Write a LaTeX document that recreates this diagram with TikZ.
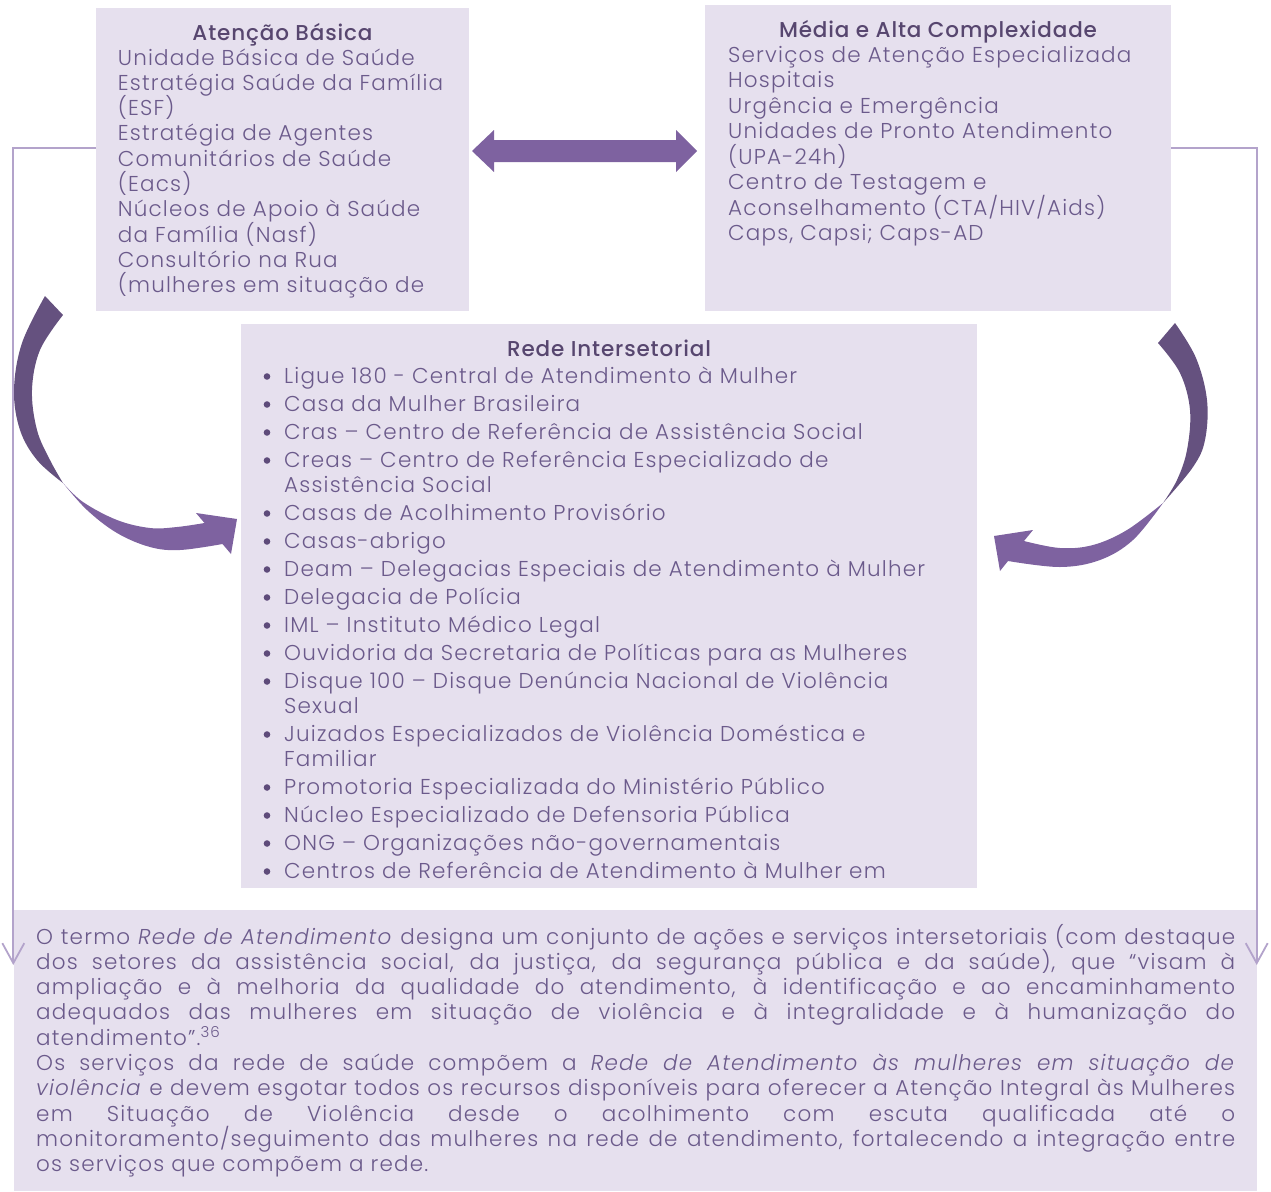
\documentclass[tikz,border=0pt]{standalone}
\usepackage{fontspec}
\usetikzlibrary{arrows.meta}
\IfFontExistsTF{Poppins Light}{%
  \IfFontExistsTF{Poppins Light Italic}{%
    \setmainfont{Poppins Light}[LetterSpace=5.5, ItalicFont={Poppins Light Italic}]}{%
    \setmainfont{Poppins Light}[LetterSpace=5.5]}%
}{\setmainfont{Poppins}[LetterSpace=5.5]}
\IfFontExistsTF{Poppins Medium}{\newfontfamily\ttlfam{Poppins Medium}[LetterSpace=4]}{\newfontfamily\ttlfam{Poppins}[LetterSpace=4]}
\newcommand\myfont{\fontsize{21.5}{25}\selectfont}
\newcommand\myttl{\ttlfam\fontsize{21.5}{25}\selectfont}
\definecolor{boxfill}{HTML}{E6E0EE}
\definecolor{txtc}{HTML}{6B5A8B}
\definecolor{ttlc}{HTML}{57466F}
\definecolor{lineclr}{HTML}{B3A3CB}
\definecolor{arrowclr}{HTML}{7E62A0}
\definecolor{arrowdark}{HTML}{65517F}
\definecolor{bulletclr}{HTML}{5E4B7A}
\begin{document}
\begin{tikzpicture}[x=1pt,y=-1pt,
  box/.style={fill=boxfill, draw=none, inner sep=0pt, outer sep=0pt, anchor=north west},
  ln/.style={anchor=base west, inner sep=0pt, text=txtc, font=\myfont},
  ttlnode/.style={anchor=base, inner sep=0pt, text=ttlc, font=\myttl},
  bul/.style={circle, fill=bulletclr, minimum size=6.6pt, inner sep=0pt},
  side/.style={draw=lineclr, line width=1.8pt, -{Straight Barb[length=20pt,width=22pt]}}]
\useasboundingbox (0,0) rectangle (1271,1191);
% boxes
\node[box, minimum width=373pt, minimum height=303pt] (ab) at (96,8) {};
\node[box, minimum width=466pt, minimum height=306pt] (mc) at (705,5) {};
\node[box, minimum width=736pt, minimum height=564pt] (ri) at (241,324) {};
\node[box, minimum width=1243pt, minimum height=281pt] (bt) at (14,910) {};
% side connectors
\coordinate (lstart) at (96,148);
\coordinate (lend) at (13.3,965);
\coordinate (rstart) at (1171,148);
\coordinate (rend) at (1256.7,965);
\draw[side] (lstart) -| (lend);
\draw[side] (rstart) -| (rend);
% double arrow
\fill[arrowclr] (472,151) -- (494,130) -- (494,140) -- (676,140) -- (676,130) -- (697,151)
  -- (676,172) -- (676,162) -- (494,162) -- (494,172) -- cycle;
% left curved arrow
\fill[arrowdark] plot[smooth, tension=0.6] coordinates {(45,296) (22,343) (14,390) (20,430) (37,460) (63,483)}
  -- plot[smooth, tension=0.6] coordinates {(63,483) (50,460) (37,430) (32,390) (40,350) (63,315)} -- cycle;
\fill[arrowclr] plot[smooth, tension=0.6] coordinates {(63,483) (83,502) (117,520) (150,528) (177,527) (204.5,523)}
  -- (196,513) -- (237,519) -- (231,554) -- (222.5,544)
  -- plot[smooth, tension=0.6] coordinates {(222.5,544) (180,550) (150,547) (117,533) (87,510) (63,483)} -- cycle;
% right curved arrow
\fill[arrowdark] plot[smooth, tension=0.6] coordinates {(1175,323) (1196,358) (1207,400) (1205,440) (1193,467) (1163,503)}
  -- plot[smooth, tension=0.6] coordinates {(1163,503) (1177,480) (1187,450) (1190,410) (1180,373) (1158,343)} -- cycle;
\fill[arrowclr] plot[smooth, tension=0.6] coordinates {(1163,503) (1127,530) (1093,545) (1060,548) (1024,541)}
  -- (1033,530) -- (994,536) -- (1000,571) -- (1008,561)
  -- plot[smooth, tension=0.6] coordinates {(1008,561) (1060,567) (1100,560) (1133,540) (1163,503)} -- cycle;
% Atencao Basica
\node[ttlnode] (abt) at (282.5,40) {Atenção Básica};
\foreach \yy/\lbl [count=\i] in {65/{Unidade Básica de Saúde}, 90.3/{Estratégia Saúde da Família},
  115.6/{(ESF)}, 140.9/{Estratégia de Agentes}, 166.2/{Comunitários de Saúde}, 191.5/{(Eacs)},
  216.8/{Núcleos de Apoio à Saúde}, 242.1/{da Família (Nasf)}, 267.4/{Consultório na Rua},
  292.7/{(mulheres em situação de}}
  \node[ln] (abl\i) at (117.7,\yy) {\lbl};
% Media e Alta Complexidade
\node[ttlnode] (mct) at (938,37) {Média e Alta Complexidade};
\foreach \yy/\lbl [count=\i] in {62/{Serviços de Atenção Especializada}, 87.5/{Hospitais},
  113/{Urgência e Emergência}, 138.5/{Unidades de Pronto Atendimento}, 164/{(UPA-24h)},
  189.5/{Centro de Testagem e}, 215/{Aconselhamento (CTA/HIV/Aids)}, 240.5/{Caps, Capsi; Caps-AD}}
  \node[ln] (mcl\i) at (728,\yy) {\lbl};
% Rede Intersetorial
\node[ttlnode] (rit) at (609,356) {Rede Intersetorial};
\foreach \yy/\lbl [count=\i] in {383/{Ligue 180 - Central de Atendimento à Mulher},
  411/{Casa da Mulher Brasileira}, 439/{Cras – Centro de Referência de Assistência Social},
  467/{Creas – Centro de Referência Especializado de}, 520/{Casas de Acolhimento Provisório},
  548/{Casas-abrigo}, 576/{Deam – Delegacias Especiais de Atendimento à Mulher},
  604/{Delegacia de Polícia}, 632/{IML – Instituto Médico Legal},
  660/{Ouvidoria da Secretaria de Políticas para as Mulheres},
  688/{Disque 100 – Disque Denúncia Nacional de Violência},
  741/{Juizados Especializados de Violência Doméstica e},
  794/{Promotoria Especializada do Ministério Público},
  822/{Núcleo Especializado de Defensoria Pública},
  850/{ONG – Organizações não-governamentais},
  878/{Centros de Referência de Atendimento à Mulher em}}
  {\node[ln] (ril\i) at (284,\yy) {\lbl};
   \node[bul] (rib\i) at (267,\yy-6.5) {};}
\foreach \yy/\lbl [count=\i] in {492/{Assistência Social}, 713/{Sexual}, 766/{Familiar}}
  \node[ln] (ric\i) at (284,\yy) {\lbl};
% bottom text
\foreach \yy/\lbl [count=\i] in {
  944/{\makebox[1199pt][s]{O termo \textit{Rede de Atendimento} designa um conjunto de ações e serviços intersetoriais (com destaque}},
  969.3/{\makebox[1199pt][s]{dos setores da assistência social, da justiça, da segurança pública e da saúde), que “visam à}},
  994.6/{\makebox[1199pt][s]{ampliação e à melhoria da qualidade do atendimento, à identificação e ao encaminhamento}},
  1019.9/{\makebox[1199pt][s]{adequados das mulheres em situação de violência e à integralidade e à humanização do}},
  1045.2/{atendimento”.\textsuperscript{36}},
  1070.5/{\makebox[1199pt][s]{Os serviços da rede de saúde compõem a \textit{Rede de Atendimento às mulheres em situação de}}},
  1095.8/{\makebox[1199pt][s]{\textit{violência} e devem esgotar todos os recursos disponíveis para oferecer a Atenção Integral às Mulheres}},
  1121.1/{\makebox[1199pt][s]{em Situação de Violência desde o acolhimento com escuta qualificada até o}},
  1146.4/{\makebox[1199pt][s]{monitoramento/seguimento das mulheres na rede de atendimento, fortalecendo a integração entre}},
  1171.7/{os serviços que compõem a rede.}}
  \node[ln] (btl\i) at (36,\yy) {\lbl};
\end{tikzpicture}
\end{document}
